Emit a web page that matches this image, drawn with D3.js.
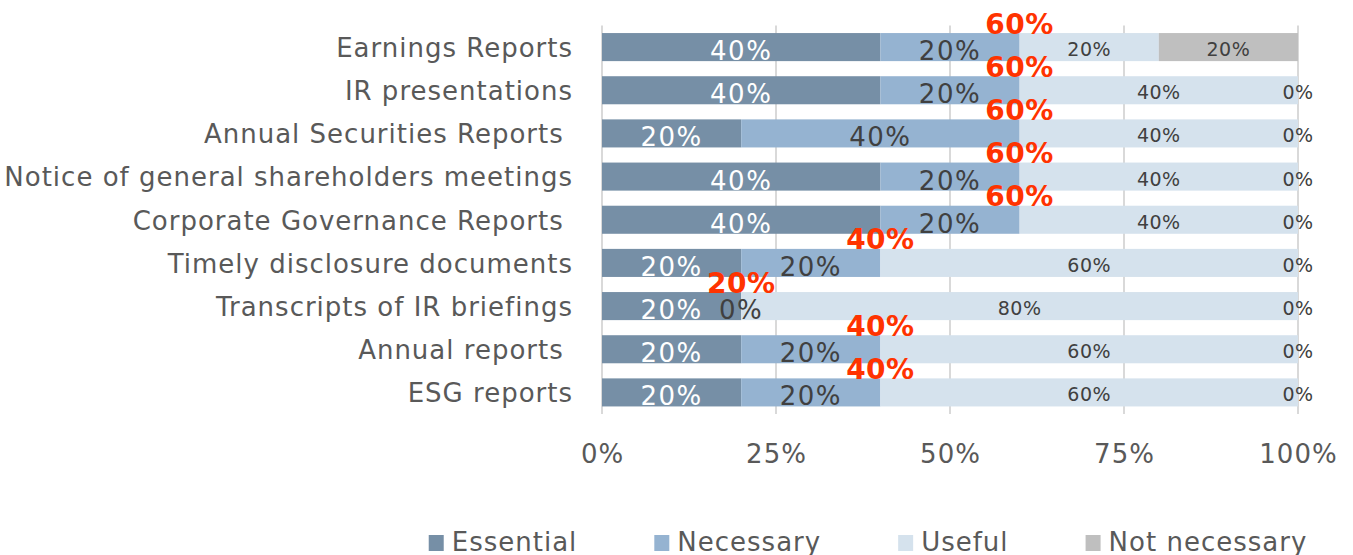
<!DOCTYPE html>
<html><head><meta charset="utf-8">
<script src="https://cdn.jsdelivr.net/npm/d3@7"></script>
<style>
html,body{margin:0;padding:0;background:#fff;}
svg{display:block;font-family:"DejaVu Sans",Verdana,sans-serif;}
</style></head>
<body>
<svg id="chart" width="1353" height="555"></svg>
<script>
const categories = ["Earnings Reports","IR presentations","Annual Securities Reports ","Notice of general shareholders meetings","Corporate Governance Reports ","Timely disclosure documents","Transcripts of IR briefings","Annual reports ","ESG reports"];
const seriesNames = ["Essential","Necessary","Useful","Not necessary"];
const essential    = [0.4,0.4,0.2,0.4,0.4,0.2,0.2,0.2,0.2];
const necessary    = [0.2,0.2,0.4,0.2,0.2,0.2,0.0,0.2,0.2];
const useful       = [0.2,0.4,0.4,0.4,0.4,0.6,0.8,0.6,0.6];
const notNecessary = [0.2,0.0,0.0,0.0,0.0,0.0,0.0,0.0,0.0];
const tickValues = [0,0.25,0.5,0.75,1];

const colors = ["#768fa6","#95b3d1","#d5e2ed","#bfbfbf"];
const seriesData = [essential,necessary,useful,notNecessary];

const svg = d3.select("#chart");
const x = d3.scaleLinear().domain([0,1]).range([602,1298]);
const y = d3.scaleBand().domain(categories).range([25.5,414]).paddingInner(0.35).paddingOuter(0.175);

// gridlines
svg.append("g").selectAll("line").data(tickValues).join("line")
  .attr("x1",d=>x(d)).attr("x2",d=>x(d)).attr("y1",25.5).attr("y2",414)
  .attr("stroke","#d9d9d9").attr("stroke-width",2);

// x axis labels
const xAxis = d3.axisBottom(x).tickValues(tickValues).tickFormat(d3.format(".0%")).tickSize(0).tickPadding(0);
const gx = svg.append("g").attr("transform","translate(0,440)").call(xAxis);
gx.select(".domain").remove();
gx.selectAll("text").attr("fill","#595959").attr("font-size",26).attr("font-family","DejaVu Sans")
  .attr("letter-spacing",1).attr("dy","0.9em");

// stacked rows
const rows = categories.map((c,i)=>{
  let acc=0; const segs=[];
  seriesData.forEach((s,k)=>{segs.push({k,cat:c,v:s[i],x0:acc,x1:acc+s[i]}); acc+=s[i];});
  return segs;
});
const segAll = rows.flat();

svg.append("g").selectAll("rect").data(segAll.filter(d=>d.v>0)).join("rect")
  .attr("x",d=>x(d.x0)).attr("width",d=>x(d.x1)-x(d.x0))
  .attr("y",d=>y(d.cat)).attr("height",y.bandwidth())
  .attr("fill",d=>colors[d.k]);

// y axis labels
const yAxis = d3.axisLeft(y).tickSize(0).tickPadding(29);
const gy = svg.append("g").attr("transform","translate(602,0)").call(yAxis);
gy.select(".domain").remove();
gy.selectAll("text").attr("fill","#595959").attr("font-size",26).attr("font-family","DejaVu Sans")
  .attr("letter-spacing",1).style("white-space","pre").attr("dy","0.38em");

// data labels
const fmt = d3.format(".0%");
const labelStyle = [
  {fill:"#ffffff",size:26,ls:1.5},
  {fill:"#404040",size:26,ls:1.5},
  {fill:"#404040",size:19,ls:0.5},
  {fill:"#404040",size:19,ls:0.5}
];
svg.append("g").selectAll("text").data(segAll).join("text")
  .attr("x",d=>x((d.x0+d.x1)/2))
  .attr("y",d=>y(d.cat)+y.bandwidth()/2 + (d.k<2?13:9))
  .attr("text-anchor","middle")
  .attr("fill",d=>labelStyle[d.k].fill)
  .attr("font-size",d=>labelStyle[d.k].size)
  .attr("letter-spacing",d=>labelStyle[d.k].ls)
  .text(d=>fmt(d.v));

// total (essential + necessary) labels
svg.append("g").selectAll("text").data(categories).join("text")
  .attr("x",(c,i)=>x(essential[i]+necessary[i]))
  .attr("y",c=>y(c)+0.5)
  .attr("text-anchor","middle")
  .attr("fill","#ff3300").attr("font-weight","bold").attr("font-size",28).attr("letter-spacing",0.5)
  .text((c,i)=>fmt(essential[i]+necessary[i]));

// legend
const lg = svg.append("g");
const items = lg.selectAll("g").data(seriesNames).join("g");
items.append("rect").attr("width",15).attr("height",16).attr("y",-16).attr("fill",(d,i)=>colors[i]);
items.append("text").attr("x",23).attr("y",0).attr("font-size",26).attr("letter-spacing",1).attr("fill","#595959").text(d=>d);
let cx=0; const pos=[];
items.each(function(d,i){ pos.push(cx); const w=23+d3.select(this).select("text").node().getComputedTextLength(); cx+=w+77;});
const total = cx-77;
const start = 868 - total/2;
items.attr("transform",(d,i)=>`translate(${start+pos[i]},551)`);
</script>
</body></html>
